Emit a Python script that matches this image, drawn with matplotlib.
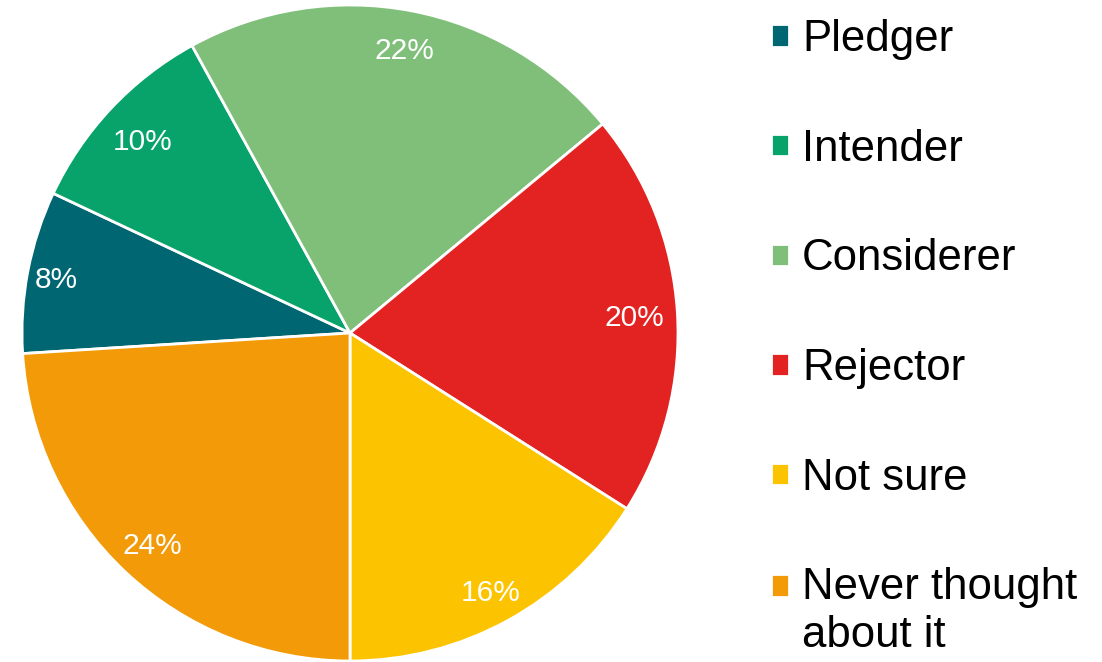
import matplotlib.pyplot as plt

labels = ['Pledger', 'Intender', 'Considerer', 'Rejector', 'Not sure', 'Never thought\nabout it']
values = [8, 10, 22, 20, 16, 24]
colors = ['#006672', '#07A36A', '#7FBF7A', '#E32322', '#FCC400', '#F29A07']
# label distance from centre, as fraction of the radius
label_dist = [0.91, 0.866, 0.884, 0.869, 0.893, 0.88]

plt.rcParams['font.family'] = ['Liberation Sans', 'DejaVu Sans']

fig = plt.figure(figsize=(11.02, 6.62), dpi=100)
ax = fig.add_axes([22 / 1102, (662 - 333 - 328) / 662, 656 / 1102, 656 / 662])

wedges, texts, autotexts = ax.pie(
    values, colors=colors, startangle=183.6, counterclock=False,
    autopct='%d%%', pctdistance=1.0,
    wedgeprops=dict(edgecolor='white', linewidth=2),
    textprops=dict(color='white', fontsize=21.5, va='center_baseline'),
)
for t, d in zip(autotexts, label_dist):
    x, y = t.get_position()
    t.set_position((x * d, y * d))
ax.set_xlim(-1, 1)
ax.set_ylim(-1, 1)
ax.set_aspect('equal')

leg = fig.legend(wedges, labels, loc='upper left', bbox_to_anchor=(771 / 1102, 1 - 19 / 662),
                 frameon=False, fontsize=31.5, handlelength=0.41, handleheight=0.41,
                 handletextpad=0.3, labelspacing=1.57, borderpad=0, borderaxespad=0)
for t in leg.get_texts():
    t.set_linespacing(1.2)
# marker of the two-line entry sits next to its first line
last = leg.legend_handles[-1]
last.set_y(last.get_y() + 19)

fig.savefig('out.png', dpi=100)
